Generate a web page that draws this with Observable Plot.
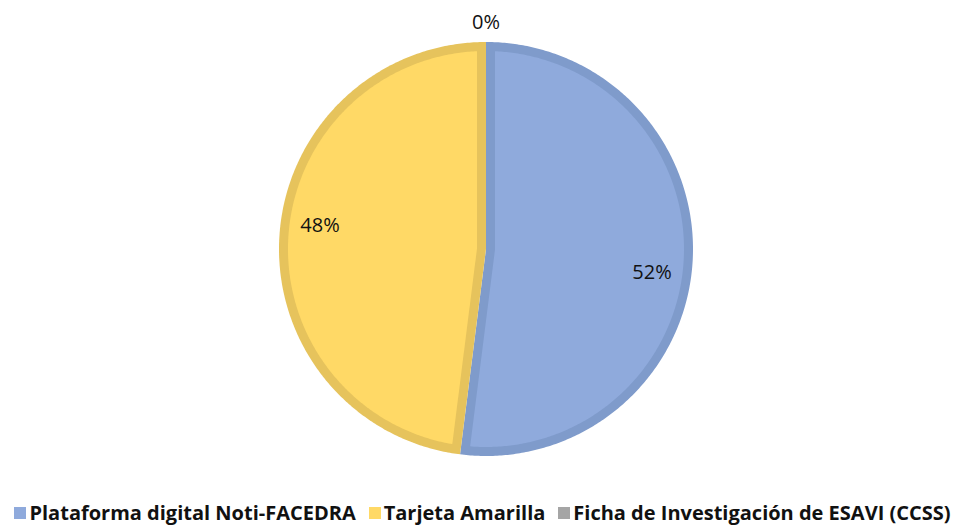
<!DOCTYPE html>
<html>
<head>
<meta charset="utf-8">
<script src="https://cdn.jsdelivr.net/npm/d3@7"></script>
<script src="https://cdn.jsdelivr.net/npm/@observablehq/plot@0.6"></script>
<style>
  html, body { margin: 0; padding: 0; background: #fff; overflow: hidden; }
  #chart { width: 965px; }
  .lg-swatch { margin-right: 13px !important; }
  .lg-swatch:last-child { margin-right: 0 !important; }
  .lg-swatch > svg { margin-right: 3px !important; }
  .lg-swatches-wrap, div.lg { min-height: 32px !important; line-height: 1.2; }
</style>
</head>
<body>
<div id="chart"></div>
<script>
const categories = ["Plataforma digital Noti-FACEDRA", "Tarjeta Amarilla", "Ficha de Investigación de ESAVI (CCSS)"];
const shares = [52, 48, 0];
const labels = ["52%", "48%", "0%"];
const fills = ["#8FAADC", "#FFD966", "#A5A5A5"];
const borders = ["#7F9BCB", "#E6C35C", "#959595"];

const W = 965, H = 497, CX = 485.5, CY = 248.5, R_PX = 207;
const d = 9 / R_PX;           // inset border width in unit radius
const pt = (a, r) => [Math.sin(a) * r, -Math.cos(a) * r];

const arcs = d3.pie().sort(null).value(v => v)(shares);

const outer = [], inner = [], labelData = [];
arcs.forEach((arc, i) => {
  const a0 = arc.startAngle, a1 = arc.endAngle, th = a1 - a0;
  if (th > 0) {
    const n = Math.max(8, Math.ceil(th / 0.01));
    const ring = [[0, 0]];
    for (let k = 0; k <= n; k++) ring.push(pt(a0 + th * k / n, 1));
    ring.push([0, 0]);
    outer.push({type: "Feature", properties: {fill: borders[i]}, geometry: {type: "Polygon", coordinates: [ring]}});

    const del = Math.asin(d / (1 - d));
    const b = (a0 + a1) / 2;
    const ring2 = [];
    if (th <= Math.PI) ring2.push(pt(b, d / Math.sin(th / 2)));
    else ring2.push(pt(a0 + Math.PI / 2, d));
    const b0 = a0 + del, b1 = a1 - del;
    for (let k = 0; k <= n; k++) ring2.push(pt(b0 + (b1 - b0) * k / n, 1 - d));
    if (th <= Math.PI) ring2.push(pt(b, d / Math.sin(th / 2)));
    else {
      ring2.push(pt(a1 - Math.PI / 2, d));
      ring2.push(pt(b, d));
      ring2.push(pt(a0 + Math.PI / 2, d));
    }
    inner.push({type: "Feature", properties: {fill: fills[i]}, geometry: {type: "Polygon", coordinates: [ring2]}});
  }
  const mid = (a0 + a1) / 2;
  const p = th > 0 ? pt(mid + 4.5 * Math.PI / 180, 0.81) : pt(mid, 1.094);
  labelData.push({x: p[0], y: p[1], label: labels[i]});
});

// domain covering the whole SVG in unit-radius coordinates
const x0 = -CX / R_PX, x1 = (W - CX) / R_PX, y0 = -CY / R_PX, y1 = (H - CY) / R_PX;
const domain = {type: "Polygon", coordinates: [[[x0, y0], [x1, y0], [x1, y1], [x0, y1], [x0, y0]]]};

const chart = Plot.plot({
  width: W,
  height: H,
  margin: 0,
  projection: {type: "identity", domain},
  style: {fontFamily: "'Open Sans', sans-serif", background: "#fff"},
  marks: [
    Plot.geo(outer, {fill: f => f.properties.fill, stroke: "none"}),
    Plot.geo(inner, {fill: f => f.properties.fill, stroke: "none"}),
    Plot.text(labelData, {x: "x", y: "y", text: "label", fontSize: 20, fill: "#111", textAnchor: "middle"})
  ]
});

const legend = Plot.legend({
  color: {type: "categorical", domain: categories, range: fills},
  legend: "swatches",
  swatchSize: 12,
  className: "lg",
  style: {fontFamily: "'Open Sans', sans-serif", fontWeight: "bold", fontSize: "20px", color: "#111", justifyContent: "center", marginLeft: "0px", marginTop: "0px", minHeight: "32px"}
});

const el = document.getElementById("chart");
el.appendChild(chart);
el.appendChild(legend);
</script>
</body>
</html>
